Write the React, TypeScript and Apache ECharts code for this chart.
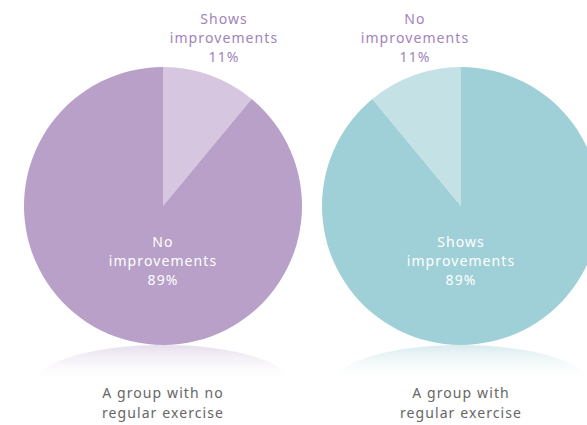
import React, { useEffect, useRef } from "react";
import * as echarts from "echarts";

const groupNames = ["A group with no\nregular exercise", "A group with\nregular exercise"];
const leftCategories = ["Shows\nimprovements", "No\nimprovements"];
const leftValues = [11, 89];
const rightCategories = ["Shows\nimprovements", "No\nimprovements"];
const rightValues = [89, 11];

const FONT = "Noto Sans";

export default function App() {
  const ref = useRef<HTMLDivElement>(null);
  useEffect(() => {
    document.body.style.margin = "0";
    const chart = echarts.init(ref.current!, null, { renderer: "svg" });
    const centers = [163, 461];
    const cy = 206;
    const R = 139;
    const pieSeries = (
      cx: number,
      cats: string[],
      vals: number[],
      colors: string[],
      bigIdx: number,
      outerX: number
    ) => ({
      type: "pie",
      center: [cx, cy],
      radius: [0, R],
      startAngle: 90,
      clockwise: true,
      silent: true,
      z: 5,
      data: cats.map((c, i) => ({
        name: c,
        value: vals[i],
        itemStyle: { color: colors[i] },
        label: {
          show: true,
          position: "inside",
          formatter: "{b}\n{c}%",
          color: i === bigIdx ? "#ffffff" : "#a283bb",
          fontFamily: FONT,
          fontSize: 14,
          lineHeight: 19,
          align: "center",
        },
      })),
      labelLine: { show: false },
      labelLayout: (p: any) =>
        p.dataIndex === bigIdx
          ? { x: cx, y: cy + 54, align: "center", verticalAlign: "middle" }
          : { x: outerX, y: 37, align: "center", verticalAlign: "middle" },
    });
    const ellipse = (cx: number, color: string) => ({
      type: "ellipse",
      shape: { cx, cy: 383, rx: 127, ry: 38 },
      z: 1,
      style: {
        fill: new echarts.graphic.LinearGradient(0, 0, 0, 1, [
          { offset: 0, color },
          { offset: 0.5, color: "rgba(255,255,255,0)" },
          { offset: 1, color: "rgba(255,255,255,0)" },
        ]),
      },
    });
    chart.setOption({
      animation: false,
      backgroundColor: "#ffffff",
      graphic: [
        ellipse(centers[0], "rgba(200,180,215,0.45)"),
        ellipse(centers[1], "rgba(170,210,218,0.45)"),
        ...groupNames.map((g, i) => ({
          type: "text",
          z: 3,
          style: {
            text: g,
            x: centers[i],
            y: 402,
            align: "center",
            verticalAlign: "middle",
            fill: "#666666",
            font: `14px "${FONT}"`,
            lineHeight: 20,
          },
        })),
      ],
      series: [
        pieSeries(centers[0], leftCategories, leftValues, ["#d6c6e0", "#b8a0c8"], 1, 224),
        pieSeries(centers[1], rightCategories, rightValues, ["#9fd0d7", "#c4e2e6"], 0, 415),
      ],
    });
    return () => chart.dispose();
  }, []);
  return (
    <div
      ref={ref}
      style={{ position: "absolute", left: 0, top: 0, width: 587, height: 425, letterSpacing: "1.1px" }}
    />
  );
}
